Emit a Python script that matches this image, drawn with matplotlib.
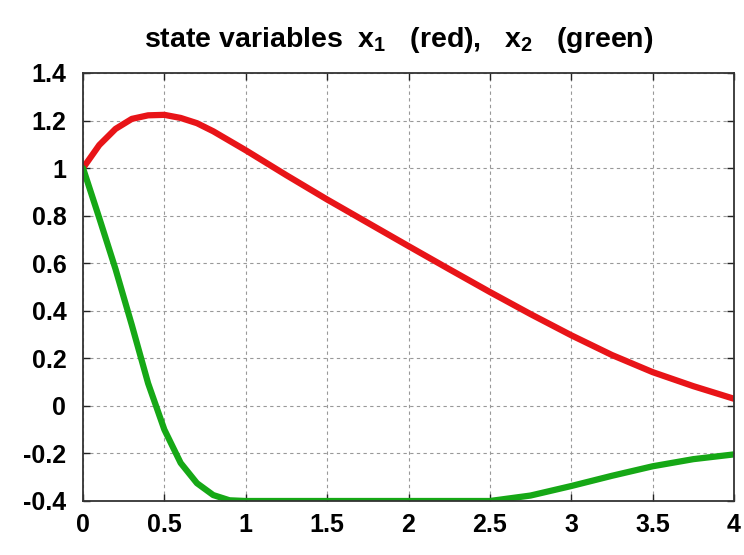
import numpy as np
import matplotlib
matplotlib.use("Agg")
import matplotlib.pyplot as plt

# time samples and the two state variables
t = [0.0, 0.1, 0.2, 0.3, 0.4, 0.5, 0.6, 0.7, 0.8, 0.9, 1.0,
     1.25, 1.5, 1.75, 2.0, 2.25, 2.5, 2.75, 3.0, 3.25, 3.5, 3.75, 4.0]

x1 = [1.0, 1.097, 1.165, 1.207, 1.222, 1.224, 1.211, 1.189, 1.155, 1.115, 1.075,
      0.970, 0.868, 0.770, 0.672, 0.575, 0.479, 0.386, 0.297, 0.214, 0.142, 0.083, 0.030]

x2 = [1.0, 0.79, 0.575, 0.34, 0.095, -0.10, -0.24, -0.325, -0.375, -0.397, -0.40,
      -0.40, -0.40, -0.40, -0.40, -0.40, -0.40, -0.377, -0.337, -0.294, -0.254, -0.224, -0.204]

xticks = [0, 0.5, 1, 1.5, 2, 2.5, 3, 3.5, 4]
xtick_labels = ["0", "0.5", "1", "1.5", "2", "2.5", "3", "3.5", "4"]
yticks = [-0.4, -0.2, 0, 0.2, 0.4, 0.6, 0.8, 1, 1.2, 1.4]
ytick_labels = ["-0.4", "-0.2", "0", "0.2", "0.4", "0.6", "0.8", "1", "1.2", "1.4"]

plt.rcParams["font.family"] = ["Liberation Sans", "DejaVu Sans"]
plt.rcParams["font.weight"] = "bold"
plt.rcParams["mathtext.fontset"] = "custom"
plt.rcParams["mathtext.rm"] = "Liberation Sans:bold"
plt.rcParams["mathtext.bf"] = "Liberation Sans:bold"
plt.rcParams["mathtext.default"] = "bf"

fig = plt.figure(figsize=(7.44, 5.55), dpi=100)
ax = fig.add_axes([83 / 744, 1 - 501 / 555, 651 / 744, 428 / 555])

ax.plot(t, x1, color="#e81418", lw=4.5, solid_capstyle="round", solid_joinstyle="round")
ax.plot(t, x2, color="#16a816", lw=4.5, solid_capstyle="round", solid_joinstyle="round")

ax.set_xlim(0, 4)
ax.set_ylim(-0.4, 1.4)
ax.set_xticks(xticks)
ax.set_xticklabels(xtick_labels)
ax.set_yticks(yticks)
ax.set_yticklabels(ytick_labels)

ax.tick_params(direction="in", length=5, width=1, top=True, right=True,
               labelsize=18, colors="#222222", labelcolor="black")
ax.tick_params(axis="y", pad=12)
ax.tick_params(axis="x", pad=9)

ax.grid(True, color="#999999", linestyle=(0, (3, 3)), linewidth=0.8)
for s in ax.spines.values():
    s.set_color("#333333")
    s.set_linewidth(1.3)

fig.text(399 / 744, 1 - 40 / 555,
         r"state variables  $x_1$   (red),   $x_2$   (green)",
         ha="center", va="center", fontsize=20.5, fontweight="bold")

fig.savefig("out.png", dpi=100)
